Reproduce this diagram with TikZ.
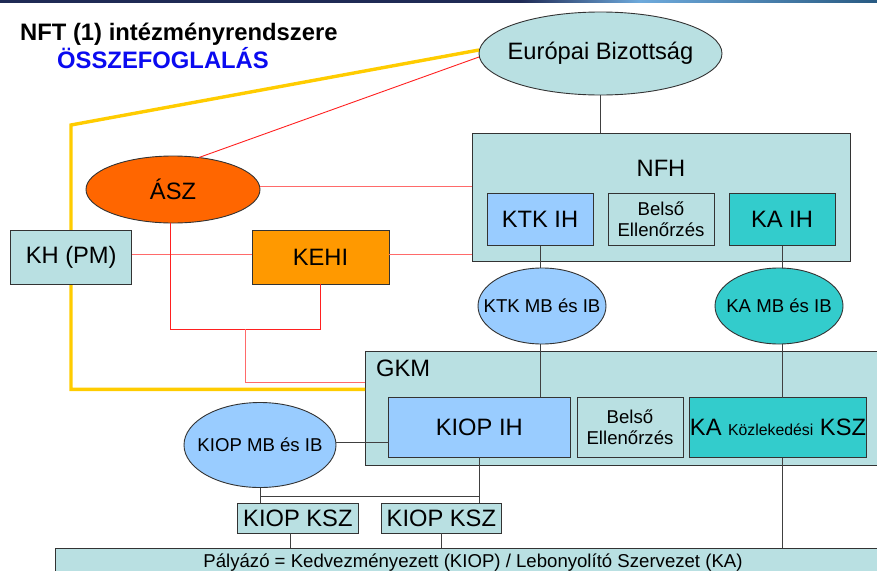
\documentclass[tikz,border=0pt]{standalone}
\usepackage{fontspec}
\setmainfont{Liberation Sans}
\usetikzlibrary{shapes.geometric}
\definecolor{lcyan}{HTML}{B9E0E2}
\definecolor{lblue}{HTML}{99CCFF}
\definecolor{teal}{HTML}{33CCCC}
\definecolor{asz}{HTML}{FF6600}
\definecolor{kehi}{HTML}{FF9900}
\definecolor{yel}{HTML}{FFCC00}
\definecolor{rline}{HTML}{FF2020}
\definecolor{pline}{HTML}{FF6A6A}
\definecolor{bord}{HTML}{333333}
\definecolor{conn}{HTML}{404040}
\definecolor{navy}{HTML}{1F2A55}
\newcommand\fbig{\fontsize{23.7}{28}\selectfont}
\newcommand\fmid{\fontsize{18.6}{21}\selectfont}
\newcommand\fsml{\fontsize{15.8}{18}\selectfont}
\tikzset{
  box/.style={draw=bord, line width=1pt, rectangle, inner sep=0pt, outer sep=0pt, align=center, font=\fbig},
  oval/.style={draw=bord, line width=0.9pt, ellipse, inner sep=0pt, outer sep=0pt},
  gline/.style={draw=conn, line width=1pt},
  rl/.style={draw=rline, line width=0.9pt},
  pl/.style={draw=pline, line width=1pt},
  yl/.style={draw=yel, line width=3.4pt},
}
\begin{document}
\begin{tikzpicture}[x=1pt, y=-1pt]
\useasboundingbox (0,0) rectangle (877,570);
\clip (0,0) rectangle (877,570);
% top bar
\fill[navy] (0,0) rectangle (520,2.6);
\shade[left color=navy, right color={rgb,255:red,110;green,170;blue,220}] (520,0) rectangle (640,2.6);
\shade[left color={rgb,255:red,110;green,170;blue,220}, right color={rgb,255:red,40;green,90;blue,130}] (640,0) rectangle (877,2.6);

% title
\node[anchor=base west, inner sep=0pt, font=\fontsize{23.8}{27}\selectfont\bfseries] (title) at (20,40.5) {NFT (1) intézményrendszere};
\node[anchor=base west, inner sep=0pt, font=\fontsize{23.8}{27}\selectfont\bfseries, text={rgb,255:red,10;green,10;blue,240}] (subtitle) at (57,68.3) {ÖSSZEFOGLALÁS};

% coordinates
\coordinate (y1) at (71,125);
\coordinate (y2) at (71,389.3);
\coordinate (jl) at (170,329.3);
\coordinate (jr) at (320.7,329.3);
\coordinate (jm) at (245,329.3);
\coordinate (jb) at (245,382);
\coordinate (hb) at (0,496);
\coordinate (p1) at (290,548.3);

% yellow line (behind)
\node[oval, fill=lcyan, minimum width=243pt, minimum height=83pt, label={[font=\fbig, inner sep=0pt]center:Európai Bizottság}] (EB) at (600.5,53.5) {};
\node[box, fill=lcyan, minimum width=525pt, minimum height=113.3pt] (GKM) at (627.5,408.35) {};
\draw[yl] ([yshift=3.5pt]EB.west) -- (y1) -- (y2) -- (y2 -| GKM.west);

% red lines
\node[box, fill=lcyan, minimum width=378pt, minimum height=128.5pt] (NFH) at (661,197.25) {};
\node[oval, fill=asz, minimum width=174pt, minimum height=67pt, label={[font=\fbig, inner sep=0pt]center:ÁSZ}] (ASZ) at (173,189.5) {};
\node[box, fill=kehi, minimum width=137pt, minimum height=53.6pt] (KEHI) at (320.5,257.5) {KEHI};
\draw[rl] ([yshift=-3.5pt]EB.west) -- (ASZ.51);
\draw[pl] ([yshift=3.5pt]ASZ.east) -- ([yshift=3.5pt]ASZ.east -| NFH.west);
\draw[pl] (y1 |- KEHI.west) ++(0,-3.5) -- ([yshift=3.5pt]KEHI.west);
\draw[pl] ([yshift=3.5pt]KEHI.east) -- ([yshift=3.5pt]KEHI.east -| NFH.west);
\draw[rl] (ASZ.south -| jl) -- (jl) -- (jr) -- (jr |- KEHI.south);
\draw[pl] (jm) -- (jb) -- (jb -| GKM.west);

\node[box, fill=lcyan, minimum width=121pt, minimum height=53.6pt] (KH) at (71.2,257.5) {KH (PM)};

% NFH content
\node[inner sep=0pt, font=\fbig] (NFHl) at (661,168) {NFH};
\node[box, fill=lblue, minimum width=106pt, minimum height=52.7pt] (KTKIH) at (540,219.6) {KTK IH};
\node[box, fill=lcyan, minimum width=106pt, minimum height=52.7pt, font=\fmid] (BEA) at (661,219.6) {Belső\\Ellenőrzés};
\node[box, fill=teal, minimum width=106pt, minimum height=52.7pt] (KAIH) at (782,219.6) {KA IH};

\draw[gline] (EB.south) -- (EB.south |- NFH.north);

% MB ellipses
\node[oval, fill=lblue, minimum width=128pt, minimum height=76pt, label={[font=\fmid, inner sep=0pt]center:KTK MB és IB}] (KTKMB) at (542,306) {};
\node[oval, fill=teal, minimum width=128pt, minimum height=76pt, label={[font=\fmid, inner sep=0pt]center:KA MB és IB}] (KAMB) at (779,306) {};
\draw[gline] (KTKIH.south) -- (KTKIH.south |- KTKMB.north);
\draw[gline] (KAIH.south) -- (KAIH.south |- KAMB.north);

% GKM content
\node[inner sep=0pt, anchor=west, font=\fbig] (GKMl) at (376,368) {GKM};
\node[box, fill=lblue, minimum width=181.5pt, minimum height=59.7pt] (KIOPIH) at (479.25,427.15) {KIOP IH};
\node[box, fill=lcyan, minimum width=106pt, minimum height=60pt, font=\fmid] (BEB) at (630,427.5) {Belső\\Ellenőrzés};
\node[box, fill=teal, minimum width=174pt, minimum height=60pt] (KAKSZ) at (778,427.5) {KA {\fsml Közlekedési} KSZ};
\draw[gline] (KTKIH.south |- KTKMB.south) -- (KTKIH.south |- KIOPIH.north);
\draw[gline] (KAIH.south |- KAMB.south) -- (KAIH.south |- KAKSZ.north);

% KIOP
\node[oval, fill=lblue, minimum width=152pt, minimum height=85pt, label={[font=\fmid, inner sep=0pt]center:KIOP MB és IB}] (KIOPMB) at (260,445) {};
\node[box, fill=lcyan, minimum width=120.3pt, minimum height=30pt] (KSZ1) at (297.85,518) {KIOP KSZ};
\node[box, fill=lcyan, minimum width=120.7pt, minimum height=30pt] (KSZ2) at (441.35,518) {KIOP KSZ};
\draw[gline] ([yshift=2.3pt]KIOPMB.east) -- ([yshift=2.3pt]KIOPMB.east -| KIOPIH.west);
\draw[gline] (KIOPMB.south) -- (KIOPMB.south |- KSZ1.north);
\draw[gline] (KIOPMB.south |- hb) -- (KIOPIH.south |- hb);
\draw[gline] (KIOPIH.south) -- (KIOPIH.south |- KSZ2.north);

% Palyazo
\node[box, fill=lcyan, minimum width=834.3pt, minimum height=51.7pt] (PAL) at (472.85,574.15) {};
\node[anchor=base, inner sep=0pt, font=\fmid] (PALt) at (473,567) {Pályázó = Kedvezményezett (KIOP) / Lebonyolító Szervezet (KA)};
\draw[gline] (p1 |- KSZ1.south) -- (p1);
\draw[gline] (KSZ2.south) -- (KSZ2.south |- PAL.north);
\draw[gline] (KAIH.south |- KAKSZ.south) -- (KAIH.south |- PAL.north);
\end{tikzpicture}
\end{document}
